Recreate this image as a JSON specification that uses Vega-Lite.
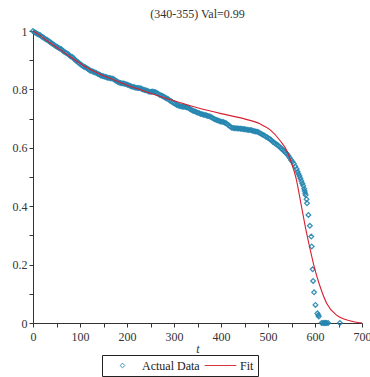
{
  "$schema": "https://vega.github.io/schema/vega-lite/v6.json",
  "width": 329,
  "height": 292,
  "autosize": "none",
  "padding": {"left": 33, "top": 31, "right": 8, "bottom": 54},
  "config": {
    "view": {"stroke": null},
    "font": "Liberation Serif",
    "axis": {"grid": false, "domainColor": "#333", "tickColor": "#333", "labelColor": "#333", "labelFontSize": 12, "labelFont": "Liberation Serif", "titleFont": "Liberation Serif", "titleColor": "#333", "tickSize": 4, "domainWidth": 1, "tickWidth": 1}
  },
  "title": {"text": "(340-355) Val=0.99", "fontSize": 12, "fontWeight": "normal", "font": "Liberation Serif", "color": "#333", "offset": 4},
  "datasets": {
    "pts": [
      {"t":0,"y":1.0,"s":"Actual Data"},{"t":3,"y":0.996,"s":"Actual Data"},{"t":6,"y":0.994,"s":"Actual Data"},{"t":9,"y":0.99,"s":"Actual Data"},{"t":12,"y":0.988,"s":"Actual Data"},{"t":15,"y":0.986,"s":"Actual Data"},{"t":18,"y":0.981,"s":"Actual Data"},{"t":21,"y":0.979,"s":"Actual Data"},{"t":24,"y":0.975,"s":"Actual Data"},{"t":27,"y":0.972,"s":"Actual Data"},
      {"t":30,"y":0.97,"s":"Actual Data"},{"t":33,"y":0.966,"s":"Actual Data"},{"t":36,"y":0.963,"s":"Actual Data"},{"t":39,"y":0.958,"s":"Actual Data"},{"t":42,"y":0.956,"s":"Actual Data"},{"t":45,"y":0.952,"s":"Actual Data"},{"t":48,"y":0.949,"s":"Actual Data"},{"t":51,"y":0.946,"s":"Actual Data"},{"t":54,"y":0.943,"s":"Actual Data"},{"t":57,"y":0.94,"s":"Actual Data"},
      {"t":60,"y":0.938,"s":"Actual Data"},{"t":63,"y":0.933,"s":"Actual Data"},{"t":66,"y":0.929,"s":"Actual Data"},{"t":69,"y":0.926,"s":"Actual Data"},{"t":72,"y":0.924,"s":"Actual Data"},{"t":75,"y":0.92,"s":"Actual Data"},{"t":78,"y":0.916,"s":"Actual Data"},{"t":81,"y":0.912,"s":"Actual Data"},{"t":84,"y":0.911,"s":"Actual Data"},{"t":87,"y":0.906,"s":"Actual Data"},
      {"t":90,"y":0.9,"s":"Actual Data"},{"t":93,"y":0.897,"s":"Actual Data"},{"t":96,"y":0.892,"s":"Actual Data"},{"t":99,"y":0.889,"s":"Actual Data"},{"t":102,"y":0.885,"s":"Actual Data"},{"t":105,"y":0.881,"s":"Actual Data"},{"t":108,"y":0.878,"s":"Actual Data"},{"t":111,"y":0.876,"s":"Actual Data"},{"t":114,"y":0.873,"s":"Actual Data"},{"t":117,"y":0.87,"s":"Actual Data"},
      {"t":120,"y":0.866,"s":"Actual Data"},{"t":123,"y":0.864,"s":"Actual Data"},{"t":126,"y":0.862,"s":"Actual Data"},{"t":129,"y":0.86,"s":"Actual Data"},{"t":132,"y":0.858,"s":"Actual Data"},{"t":135,"y":0.856,"s":"Actual Data"},{"t":138,"y":0.853,"s":"Actual Data"},{"t":141,"y":0.851,"s":"Actual Data"},{"t":144,"y":0.848,"s":"Actual Data"},{"t":147,"y":0.846,"s":"Actual Data"},
      {"t":150,"y":0.845,"s":"Actual Data"},{"t":153,"y":0.843,"s":"Actual Data"},{"t":156,"y":0.842,"s":"Actual Data"},{"t":159,"y":0.84,"s":"Actual Data"},{"t":162,"y":0.839,"s":"Actual Data"},{"t":165,"y":0.838,"s":"Actual Data"},{"t":168,"y":0.837,"s":"Actual Data"},{"t":171,"y":0.836,"s":"Actual Data"},{"t":174,"y":0.832,"s":"Actual Data"},{"t":177,"y":0.829,"s":"Actual Data"},
      {"t":180,"y":0.826,"s":"Actual Data"},{"t":183,"y":0.824,"s":"Actual Data"},{"t":186,"y":0.822,"s":"Actual Data"},{"t":189,"y":0.821,"s":"Actual Data"},{"t":192,"y":0.82,"s":"Actual Data"},{"t":195,"y":0.819,"s":"Actual Data"},{"t":198,"y":0.818,"s":"Actual Data"},{"t":201,"y":0.816,"s":"Actual Data"},{"t":204,"y":0.814,"s":"Actual Data"},{"t":207,"y":0.812,"s":"Actual Data"},
      {"t":210,"y":0.81,"s":"Actual Data"},{"t":213,"y":0.808,"s":"Actual Data"},{"t":216,"y":0.807,"s":"Actual Data"},{"t":219,"y":0.806,"s":"Actual Data"},{"t":222,"y":0.805,"s":"Actual Data"},{"t":225,"y":0.805,"s":"Actual Data"},{"t":228,"y":0.804,"s":"Actual Data"},{"t":231,"y":0.802,"s":"Actual Data"},{"t":234,"y":0.8,"s":"Actual Data"},{"t":237,"y":0.798,"s":"Actual Data"},
      {"t":240,"y":0.797,"s":"Actual Data"},{"t":243,"y":0.795,"s":"Actual Data"},{"t":246,"y":0.793,"s":"Actual Data"},{"t":249,"y":0.792,"s":"Actual Data"},{"t":252,"y":0.792,"s":"Actual Data"},{"t":255,"y":0.793,"s":"Actual Data"},{"t":258,"y":0.791,"s":"Actual Data"},{"t":261,"y":0.79,"s":"Actual Data"},{"t":264,"y":0.787,"s":"Actual Data"},{"t":267,"y":0.784,"s":"Actual Data"},
      {"t":270,"y":0.781,"s":"Actual Data"},{"t":273,"y":0.779,"s":"Actual Data"},{"t":276,"y":0.777,"s":"Actual Data"},{"t":279,"y":0.774,"s":"Actual Data"},{"t":282,"y":0.771,"s":"Actual Data"},{"t":285,"y":0.769,"s":"Actual Data"},{"t":288,"y":0.766,"s":"Actual Data"},{"t":291,"y":0.762,"s":"Actual Data"},{"t":294,"y":0.759,"s":"Actual Data"},{"t":297,"y":0.756,"s":"Actual Data"},
      {"t":300,"y":0.753,"s":"Actual Data"},{"t":303,"y":0.75,"s":"Actual Data"},{"t":306,"y":0.747,"s":"Actual Data"},{"t":309,"y":0.745,"s":"Actual Data"},{"t":312,"y":0.743,"s":"Actual Data"},{"t":315,"y":0.742,"s":"Actual Data"},{"t":318,"y":0.741,"s":"Actual Data"},{"t":321,"y":0.741,"s":"Actual Data"},{"t":324,"y":0.74,"s":"Actual Data"},{"t":327,"y":0.739,"s":"Actual Data"},
      {"t":330,"y":0.737,"s":"Actual Data"},{"t":333,"y":0.734,"s":"Actual Data"},{"t":336,"y":0.731,"s":"Actual Data"},{"t":339,"y":0.728,"s":"Actual Data"},{"t":342,"y":0.726,"s":"Actual Data"},{"t":345,"y":0.724,"s":"Actual Data"},{"t":348,"y":0.722,"s":"Actual Data"},{"t":351,"y":0.72,"s":"Actual Data"},{"t":354,"y":0.718,"s":"Actual Data"},{"t":357,"y":0.716,"s":"Actual Data"},
      {"t":360,"y":0.715,"s":"Actual Data"},{"t":363,"y":0.713,"s":"Actual Data"},{"t":366,"y":0.712,"s":"Actual Data"},{"t":369,"y":0.711,"s":"Actual Data"},{"t":372,"y":0.709,"s":"Actual Data"},{"t":375,"y":0.708,"s":"Actual Data"},{"t":378,"y":0.706,"s":"Actual Data"},{"t":381,"y":0.703,"s":"Actual Data"},{"t":384,"y":0.7,"s":"Actual Data"},{"t":387,"y":0.698,"s":"Actual Data"},
      {"t":390,"y":0.695,"s":"Actual Data"},{"t":393,"y":0.694,"s":"Actual Data"},{"t":396,"y":0.692,"s":"Actual Data"},{"t":399,"y":0.69,"s":"Actual Data"},{"t":402,"y":0.689,"s":"Actual Data"},{"t":405,"y":0.688,"s":"Actual Data"},{"t":408,"y":0.686,"s":"Actual Data"},{"t":411,"y":0.684,"s":"Actual Data"},{"t":414,"y":0.68,"s":"Actual Data"},{"t":417,"y":0.676,"s":"Actual Data"},
      {"t":420,"y":0.672,"s":"Actual Data"},{"t":423,"y":0.669,"s":"Actual Data"},{"t":426,"y":0.668,"s":"Actual Data"},{"t":429,"y":0.667,"s":"Actual Data"},{"t":432,"y":0.667,"s":"Actual Data"},{"t":435,"y":0.666,"s":"Actual Data"},{"t":438,"y":0.666,"s":"Actual Data"},{"t":441,"y":0.665,"s":"Actual Data"},{"t":444,"y":0.665,"s":"Actual Data"},{"t":447,"y":0.664,"s":"Actual Data"},
      {"t":450,"y":0.664,"s":"Actual Data"},{"t":453,"y":0.663,"s":"Actual Data"},{"t":456,"y":0.662,"s":"Actual Data"},{"t":459,"y":0.661,"s":"Actual Data"},{"t":462,"y":0.661,"s":"Actual Data"},{"t":465,"y":0.66,"s":"Actual Data"},{"t":468,"y":0.658,"s":"Actual Data"},{"t":471,"y":0.657,"s":"Actual Data"},{"t":474,"y":0.656,"s":"Actual Data"},{"t":477,"y":0.655,"s":"Actual Data"},
      {"t":480,"y":0.653,"s":"Actual Data"},{"t":483,"y":0.65,"s":"Actual Data"},{"t":486,"y":0.647,"s":"Actual Data"},{"t":489,"y":0.645,"s":"Actual Data"},{"t":492,"y":0.642,"s":"Actual Data"},{"t":495,"y":0.639,"s":"Actual Data"},{"t":498,"y":0.636,"s":"Actual Data"},{"t":501,"y":0.633,"s":"Actual Data"},{"t":504,"y":0.63,"s":"Actual Data"},{"t":507,"y":0.626,"s":"Actual Data"},
      {"t":510,"y":0.621,"s":"Actual Data"},{"t":513,"y":0.618,"s":"Actual Data"},{"t":516,"y":0.614,"s":"Actual Data"},{"t":519,"y":0.611,"s":"Actual Data"},{"t":522,"y":0.607,"s":"Actual Data"},{"t":525,"y":0.603,"s":"Actual Data"},{"t":528,"y":0.598,"s":"Actual Data"},{"t":531,"y":0.594,"s":"Actual Data"},{"t":534,"y":0.589,"s":"Actual Data"},{"t":537,"y":0.584,"s":"Actual Data"},
      {"t":540,"y":0.58,"s":"Actual Data"},{"t":543,"y":0.574,"s":"Actual Data"},{"t":546,"y":0.566,"s":"Actual Data"},{"t":549,"y":0.558,"s":"Actual Data"},{"t":552,"y":0.552,"s":"Actual Data"},{"t":555,"y":0.545,"s":"Actual Data"},{"t":558,"y":0.536,"s":"Actual Data"},{"t":561,"y":0.527,"s":"Actual Data"},{"t":563,"y":0.518,"s":"Actual Data"},{"t":565,"y":0.51,"s":"Actual Data"},
      {"t":567,"y":0.503,"s":"Actual Data"},{"t":569,"y":0.495,"s":"Actual Data"},{"t":571,"y":0.486,"s":"Actual Data"},{"t":573,"y":0.478,"s":"Actual Data"},{"t":575,"y":0.47,"s":"Actual Data"},{"t":577,"y":0.46,"s":"Actual Data"},{"t":578,"y":0.452,"s":"Actual Data"},{"t":579,"y":0.444,"s":"Actual Data"},{"t":580,"y":0.438,"s":"Actual Data"},{"t":582,"y":0.424,"s":"Actual Data"},
      {"t":583,"y":0.41,"s":"Actual Data"},{"t":586,"y":0.37,"s":"Actual Data"},{"t":589,"y":0.333,"s":"Actual Data"},{"t":592,"y":0.296,"s":"Actual Data"},{"t":593,"y":0.262,"s":"Actual Data"},{"t":595,"y":0.184,"s":"Actual Data"},{"t":596,"y":0.144,"s":"Actual Data"},{"t":598,"y":0.105,"s":"Actual Data"},{"t":601,"y":0.062,"s":"Actual Data"},{"t":605,"y":0.033,"s":"Actual Data"},
      {"t":607,"y":0.027,"s":"Actual Data"},{"t":608,"y":0.022,"s":"Actual Data"},{"t":614,"y":0,"s":"Actual Data"},{"t":617,"y":0,"s":"Actual Data"},{"t":619,"y":0,"s":"Actual Data"},{"t":621,"y":0,"s":"Actual Data"},{"t":623,"y":0,"s":"Actual Data"},{"t":625,"y":0,"s":"Actual Data"},{"t":628,"y":0,"s":"Actual Data"},{"t":653,"y":0,"s":"Actual Data"}
    ],
    "fit": [
      {"t":0,"y":1.0,"s":"Fit"},{"t":15,"y":0.985,"s":"Fit"},{"t":36,"y":0.96,"s":"Fit"},{"t":57,"y":0.937,"s":"Fit"},{"t":79,"y":0.912,"s":"Fit"},{"t":107,"y":0.882,"s":"Fit"},{"t":136,"y":0.857,"s":"Fit"},{"t":171,"y":0.833,"s":"Fit"},{"t":200,"y":0.815,"s":"Fit"},{"t":250,"y":0.787,"s":"Fit"},
      {"t":300,"y":0.761,"s":"Fit"},{"t":350,"y":0.737,"s":"Fit"},{"t":400,"y":0.717,"s":"Fit"},{"t":450,"y":0.699,"s":"Fit"},{"t":483,"y":0.682,"s":"Fit"},{"t":504,"y":0.662,"s":"Fit"},{"t":526,"y":0.624,"s":"Fit"},{"t":540,"y":0.59,"s":"Fit"},{"t":550,"y":0.548,"s":"Fit"},{"t":560,"y":0.494,"s":"Fit"},
      {"t":570,"y":0.41,"s":"Fit"},{"t":580,"y":0.325,"s":"Fit"},{"t":590,"y":0.25,"s":"Fit"},{"t":600,"y":0.182,"s":"Fit"},{"t":611,"y":0.124,"s":"Fit"},{"t":625,"y":0.067,"s":"Fit"},{"t":646,"y":0.027,"s":"Fit"},{"t":674,"y":0.008,"s":"Fit"},{"t":700,"y":0,"s":"Fit"}
    ]
  },
  "encoding": {
    "x": {"field": "t", "type": "quantitative", "scale": {"domain": [0, 700], "nice": false}, "axis": {"values": [0,50,100,150,200,250,300,350,400,450,500,550,600,650,700], "labelExpr": "datum.value % 100 === 0 ? datum.label : ''", "format": "d", "labelFlush": false, "title": "t", "titleFontStyle": "italic", "titleFontWeight": "normal", "titleFontSize": 12, "titlePadding": 1, "labelPadding": 4, "labelFont": "Liberation Serif", "titleFont": "Liberation Serif"}},
    "y": {"field": "y", "type": "quantitative", "scale": {"domain": [0, 1], "nice": false}, "axis": {"values": [0,0.1,0.2,0.3,0.4,0.5,0.6,0.7,0.8,0.9,1], "labelExpr": "round(datum.value*10) % 2 === 0 ? datum.label : ''", "format": "~g", "labelFlush": false, "title": null, "labelPadding": 2, "labelFont": "Liberation Serif"}}
  },
  "layer": [
    {
      "data": {"name": "pts"},
      "mark": {"type": "point", "filled": false, "strokeWidth": 1.3, "opacity": 0.9},
      "encoding": {
        "color": {"field": "s", "type": "nominal", "scale": {"domain": ["Actual Data", "Fit"], "range": ["#2586b0", "#d42030"]},
          "legend": {"orient": "none", "legendX": 69, "legendY": 324, "direction": "horizontal", "columns": 2, "clipHeight": 13, "title": null, "strokeColor": "#222", "padding": 4, "labelFontSize": 12, "labelFont": "Liberation Serif", "labelColor": "#222", "symbolStrokeWidth": 1, "columnPadding": 4, "labelOffset": 3}},
        "shape": {"field": "s", "type": "nominal", "scale": {"domain": ["Actual Data", "Fit"], "range": ["diamond", "stroke"]}},
        "size": {"field": "s", "type": "nominal", "scale": {"type": "ordinal", "domain": ["Actual Data", "Fit"], "range": [22, 1000]}}
      }
    },
    {
      "data": {"name": "fit"},
      "mark": {"type": "line", "strokeWidth": 1.1, "interpolate": "monotone"},
      "encoding": {
        "color": {"field": "s", "type": "nominal"}
      }
    }
  ]
}
